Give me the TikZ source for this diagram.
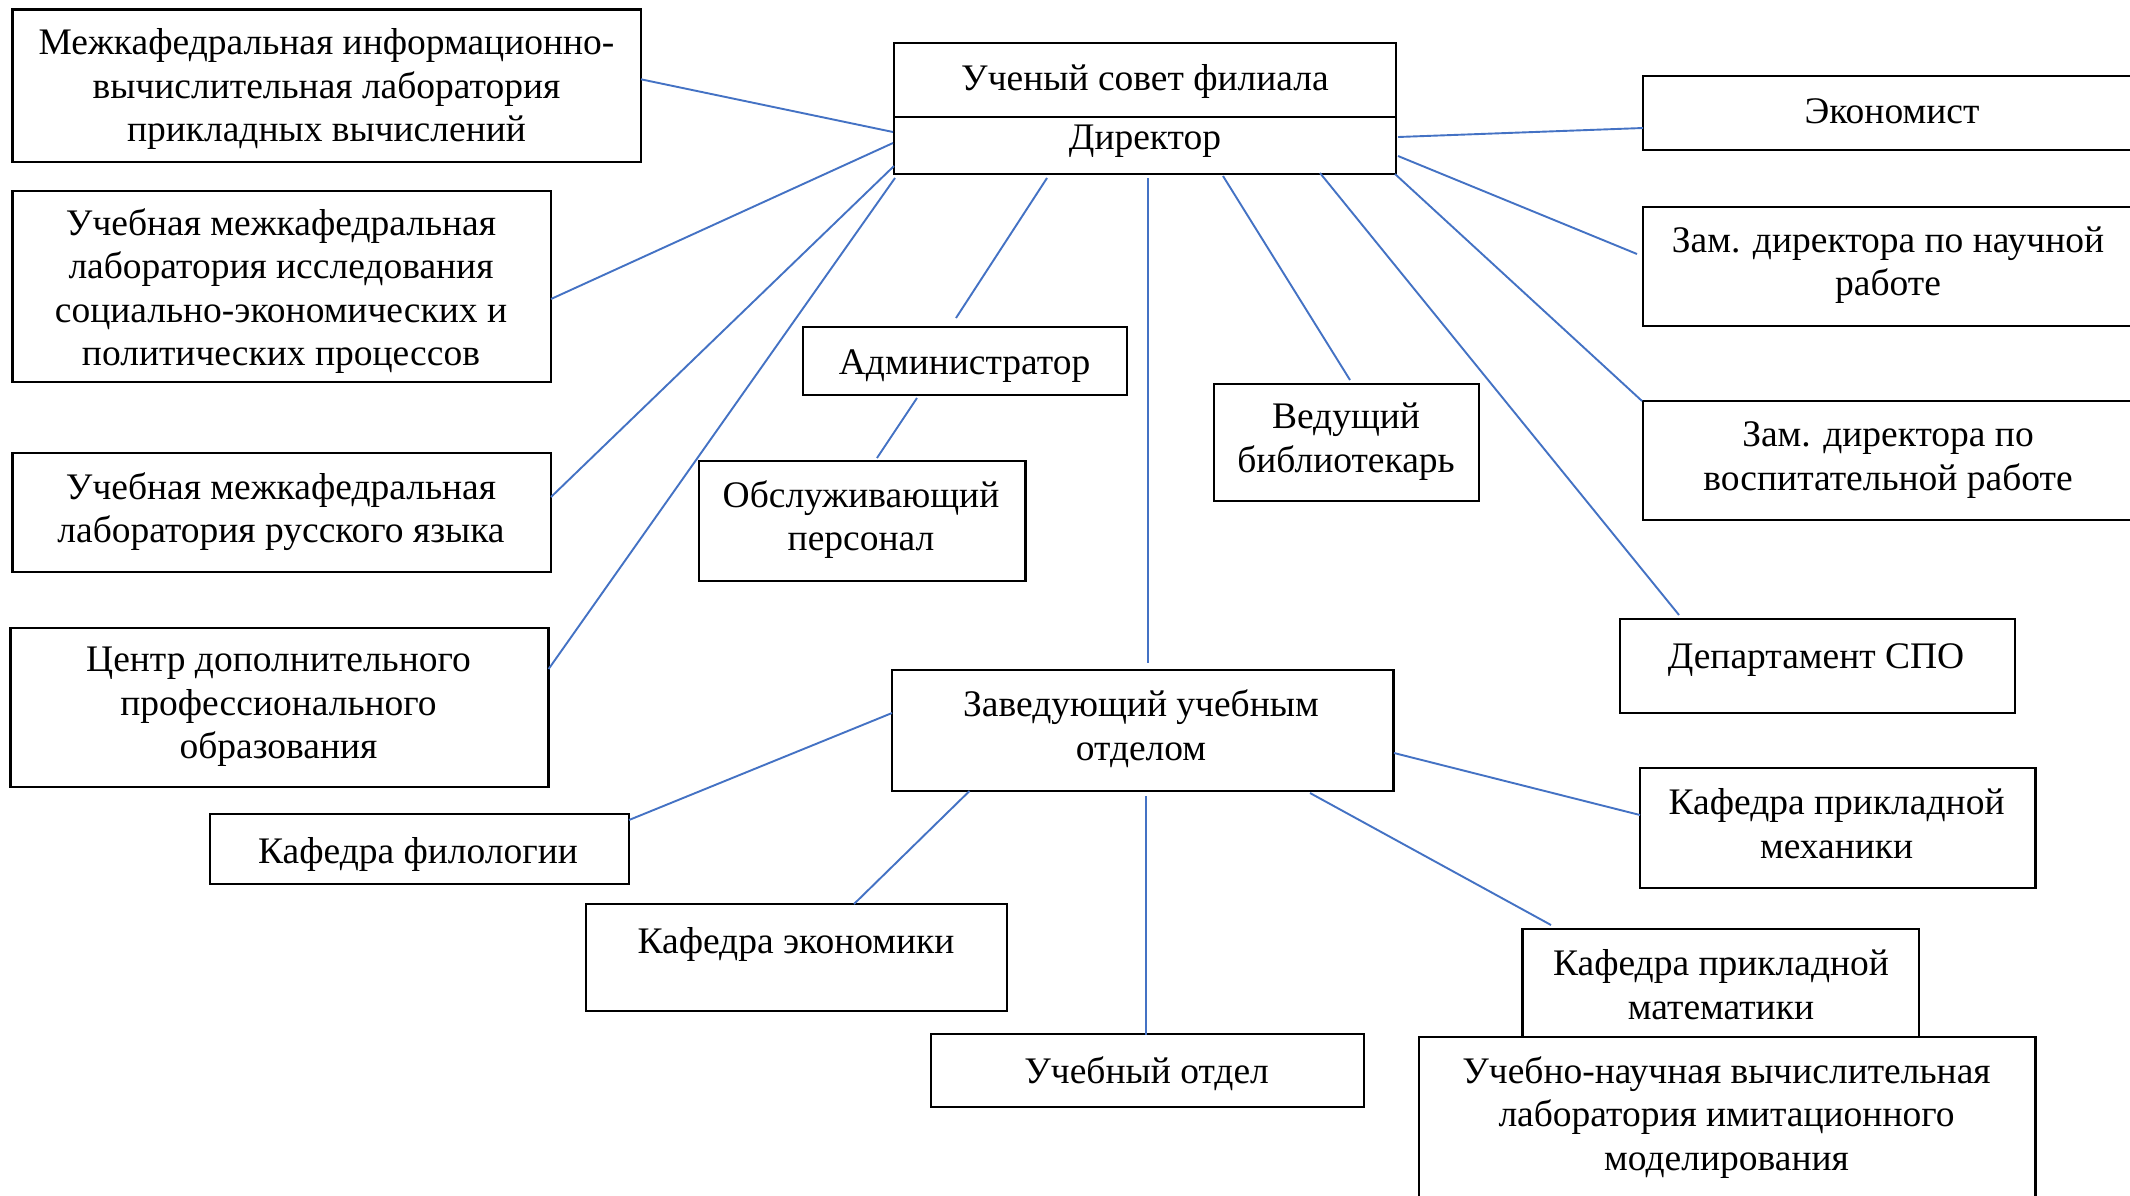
\documentclass[tikz,border=0pt]{standalone}
\usepackage{fontspec}
\setmainfont{Liberation Serif}
\usetikzlibrary{calc}
\definecolor{linkblue}{RGB}{68,114,196}
\tikzset{
  box/.style={draw=black, line width=2.4pt, anchor=north west, inner sep=0pt, outer sep=0pt},
  txt/.style={align=center, inner sep=0pt, yshift=-3pt, font=\fontsize{37.5}{43.5}\selectfont,
    execute at begin node=\strut, execute at end node=\strut},
  link/.style={draw=linkblue, line width=1.9pt}
}
\begin{document}
\begin{tikzpicture}[x=1pt,y=-1pt]
\useasboundingbox (0,0) rectangle (2130,1195);
\fill[white] (0,0) rectangle (2130,1195);
\clip (0,0) rectangle (2130,1195);

% boxes
\node[box, minimum width=628.4pt, minimum height=152.7pt] (b1) at (12.6,9.3) {};
\node[box, minimum width=502pt, minimum height=74pt] (sov) at (894,43) {};
\node[box, minimum width=502pt, minimum height=57pt] (dir) at (894,117) {};
\node[box, minimum width=520pt, minimum height=74pt] (econ) at (1643,76) {};
\node[box, minimum width=520pt, minimum height=119pt] (zamn) at (1643,207) {};
\node[box, minimum width=538.4pt, minimum height=191pt] (b2) at (12.6,191) {};
\node[box, minimum width=324pt, minimum height=68pt] (adm) at (803,327) {};
\node[box, minimum width=265pt, minimum height=117pt] (bibl) at (1214,384) {};
\node[box, minimum width=520pt, minimum height=119pt] (zamv) at (1643,401) {};
\node[box, minimum width=538.4pt, minimum height=119pt] (b3) at (12.6,453) {};
\node[box, minimum width=326.6pt, minimum height=120pt] (obsl) at (699,461) {};
\node[box, minimum width=395pt, minimum height=94pt] (dept) at (1620,619) {};
\node[box, minimum width=538.1pt, minimum height=159pt] (b4) at (10.5,628) {};
\node[box, minimum width=501.5pt, minimum height=121pt] (zav) at (892,670) {};
\node[box, minimum width=419pt, minimum height=70pt] (filol) at (210,814) {};
\node[box, minimum width=395.6pt, minimum height=120pt] (mech) at (1640,768) {};
\node[box, minimum width=420.7pt, minimum height=107pt] (ecm) at (586,904) {};
\node[box, minimum width=396.5pt, minimum height=108pt] (math) at (1522.5,929) {};
\node[box, minimum width=433pt, minimum height=73pt] (uch) at (931,1034) {};
\node[box, minimum width=616.6pt, minimum height=180pt] (lab) at (1419,1037) {};

% texts
\node[txt] (t1) at (326.5,88.6) {Межкафедральная информационно-\\вычислительная лаборатория\\прикладных вычислений};
\node[txt] (tsov) at (1145,79) {Ученый совет филиала};
\node[txt] (tdir) at (1145,137.5) {Директор};
\node[txt] (tecon) at (1892,111.7) {Экономист};
\node[txt] (tzamn) at (1888,264.5) {Зам. директора по научной\\работе};
\node[txt] (t2) at (281,290.6) {Учебная межкафедральная\\лаборатория исследования\\социально-экономических и\\политических процессов};
\node[txt] (tadm) at (964.6,363) {Администратор};
\node[txt] (tbibl) at (1346,441) {Ведущий\\библиотекарь};
\node[txt] (tzamv) at (1888,459.4) {Зам. директора по\\воспитательной работе};
\node[txt] (t3) at (281,511) {Учебная межкафедральная\\лаборатория русского языка};
\node[txt] (tobsl) at (861,519) {Обслуживающий\\персонал};
\node[txt] (tdept) at (1816,656.4) {Департамент СПО};
\node[txt] (t4) at (278.5,706.6) {Центр дополнительного\\профессионального\\образования};
\node[txt] (tzav) at (1141,728.4) {Заведующий учебным\\отделом};
\node[txt] (tfil) at (418,852) {Кафедра филологии};
\node[txt] (tmech) at (1836.6,827) {Кафедра прикладной\\механики};
\node[txt] (tecm) at (796,941.6) {Кафедра экономики};
\node[txt] (tmath) at (1721,988) {Кафедра прикладной\\математики};
\node[txt] (tuch) at (1146.6,1072) {Учебный отдел};
\node[txt] (tlab) at (1726.5,1117) {Учебно-научная вычислительная\\лаборатория имитационного\\моделирования};

% connectors
\draw[link] ($(b1.north east)+(0,70)$) -- ($(dir.north west)+(-1,15)$);
\draw[link] ($(b2.north east)+(0,108)$) -- ($(dir.north west)+(-1,26)$);
\draw[link] ($(b3.north east)+(0,44)$) -- ($(dir.north west)+(0,49)$);
\draw[link] ($(b4.north east)+(0,41)$) -- ($(dir.south west)+(1,4)$);
\draw[link] ($(dir.south west)+(153,4)$) -- ($(adm.north west)+(153,-9)$);
\draw[link] ($(adm.south west)+(114,3)$) -- ($(obsl.north west)+(178,-3)$);
\draw[link] ($(dir.south west)+(254,4)$) -- ($(zav.north west)+(256,-7)$);
\draw[link] ($(dir.south west)+(329,2)$) -- ($(bibl.north west)+(136,-4)$);
\draw[link] ($(dir.south west)+(426,-1)$) -- ($(dept.north west)+(59,-4)$);
\draw[link] ($(dir.north east)+(2,20)$) -- ($(econ.north west)+(0,52)$);
\draw[link] ($(dir.north east)+(2,39)$) -- ($(zamn.north west)+(-6,47)$);
\draw[link] ($(dir.south east)+(-1,0)$) -- ($(zamv.north west)+(-1,0)$);
\draw[link] ($(zav.north west)+(0,43)$) -- ($(filol.north east)+(0,6)$);
\draw[link] ($(zav.south west)+(77.5,0)$) -- ($(ecm.north west)+(268,0)$);
\draw[link] ($(zav.south west)+(254,5)$) -- ($(uch.north west)+(215,1)$);
\draw[link] ($(zav.south west)+(418,2)$) -- ($(math.north west)+(28.5,-4)$);
\draw[link] ($(zav.north east)+(0.5,83)$) -- ($(mech.north west)+(0,47)$);
\end{tikzpicture}
\end{document}
